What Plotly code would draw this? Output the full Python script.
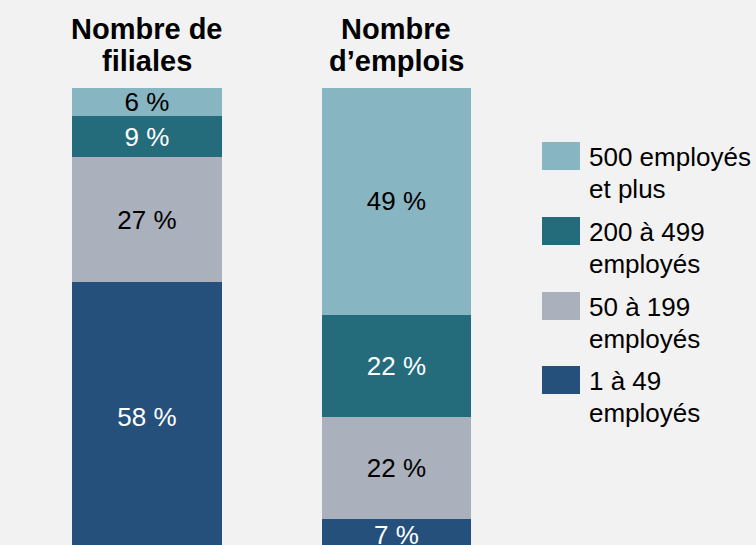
"""Répartition des filiales et des emplois selon la taille"""
import plotly.graph_objects as go

categories = ['Nombre de<br>filiales', 'Nombre<br>d\u2019emplois']
size_classes = ['1 à 49 employés', '50 à 199 employés', '200 à 499 employés', '500 employés et plus']
legend_labels = ['1 à 49<br>employés', '50 à 199<br>employés', '200 à 499<br>employés', '500 employés<br>et plus']
filiales = [58, 27, 9, 6]
emplois = [7, 22, 22, 49]

COLORS = ['#25507C', '#AAB0BC', '#246B7C', '#87B5C2']
TEXT_COLORS = ['white', 'black', 'white', 'black']
FONT = 'Liberation Sans, Arial, sans-serif'
BG = '#F2F2F2'

fig = go.Figure()
for i, name in enumerate(size_classes):
    fig.add_trace(go.Bar(
        x=[0, 1],
        y=[filiales[i], emplois[i]],
        name=name,
        width=0.6,
        marker=dict(color=COLORS[i], line=dict(width=0)),
        texttemplate='%{y} %',
        textposition='inside',
        insidetextanchor='middle',
        constraintext='none',
        textangle=0,
        cliponaxis=False,
        textfont=dict(family=FONT, size=26, color=TEXT_COLORS[i]),
        hovertemplate='%{y} %<extra>' + name + '</extra>',
        showlegend=False,
    ))

H = 545
TOP = 88
def py(px):
    return (H - px) / (H - TOP)

# category headers, one annotation per line to keep the tight line spacing
for x, cat in enumerate(categories):
    for j, line in enumerate(cat.split('<br>')):
        fig.add_annotation(xref='x', yref='paper', x=x, y=py(29 + 32 * j),
                           xanchor='center', yanchor='middle', showarrow=False,
                           text='<b>' + line + '</b>',
                           font=dict(family=FONT, size=29, color='black'))

# legend drawn by hand so the swatches can be large squares
swatch_tops = [366, 292, 217, 142]
for i, label in enumerate(legend_labels):
    top = swatch_tops[i]
    fig.add_shape(type='rect', xref='paper', yref='paper',
                  x0=542 / 756, x1=580 / 756, y0=py(top + 28), y1=py(top),
                  fillcolor=COLORS[i], line=dict(width=0))
    for j, line in enumerate(label.split('<br>')):
        fig.add_annotation(xref='paper', yref='paper', x=587 / 756, y=py(top + 15 + 32 * j),
                           xanchor='left', yanchor='middle', align='left',
                           text=line, showarrow=False,
                           font=dict(family=FONT, size=26, color='black'))

fig.update_layout(
    barmode='stack',
    width=756,
    height=H,
    margin=dict(l=0, r=0, t=TOP, b=0),
    paper_bgcolor=BG,
    plot_bgcolor=BG,
    showlegend=False,
    font=dict(family=FONT, color='black'),
    xaxis=dict(
        range=[-0.589, 2.441],
        visible=False,
        showgrid=False,
        zeroline=False,
    ),
    yaxis=dict(
        range=[1.3, 100],
        visible=False,
        showgrid=False,
        zeroline=False,
    ),
)

fig.write_html('out.html', config={'displayModeBar': False},
               post_script="document.body.style.margin='0px';")
